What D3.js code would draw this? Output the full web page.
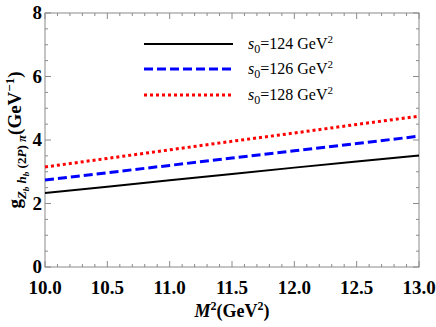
<!DOCTYPE html>
<html>
<head>
<meta charset="utf-8">
<script src="https://cdn.jsdelivr.net/npm/d3@7"></script>
<style>
  body { margin: 0; background: #fff; }
  svg text { font-family: "Liberation Serif", "Times New Roman", Times, serif; }
</style>
</head>
<body>
<div id="chart"></div>
<script>
// M^2 values (GeV^2)
const m2 = [10.0, 10.5, 11.0, 11.5, 12.0, 12.5, 13.0];
const s124 = [2.33, 2.53, 2.73, 2.93, 3.13, 3.32, 3.51];
const s126 = [2.74, 2.97, 3.20, 3.43, 3.66, 3.89, 4.12];
const s128 = [3.15, 3.42, 3.69, 3.96, 4.22, 4.49, 4.75];
const seriesLabels = ["124", "126", "128"];
const xTicks = [10.0, 10.5, 11.0, 11.5, 12.0, 12.5, 13.0];
const yTicks = [0, 2, 4, 6, 8];

const width = 436, height = 327;
const margin = {top: 13, right: 17, bottom: 60, left: 45};

const svg = d3.select("#chart").append("svg")
    .attr("width", width)
    .attr("height", height)
    .attr("font-family", "Liberation Serif, serif");

const x = d3.scaleLinear().domain([10, 13]).range([margin.left, width - margin.right]);
const y = d3.scaleLinear().domain([0, 8]).range([height - margin.bottom, margin.top]);

const axisColor = "#8a8a8a";

// frame
svg.append("rect")
    .attr("x", x(10)).attr("y", y(8))
    .attr("width", x(13) - x(10)).attr("height", y(0) - y(8))
    .attr("fill", "none").attr("stroke", axisColor).attr("stroke-width", 1);

// ticks (inward, all four sides)
const xMinor = d3.range(100, 131).map(d => d / 10);
const yMinor = d3.range(0, 17).map(d => d / 2);
const xMajorSet = new Set(xTicks.map(d => d.toFixed(1)));
const yMajorSet = new Set(yTicks.map(String));

const tickG = svg.append("g").attr("stroke", axisColor).attr("stroke-width", 1);
xMinor.forEach(v => {
  const len = xMajorSet.has(v.toFixed(1)) ? 6 : 3;
  tickG.append("line").attr("x1", x(v)).attr("x2", x(v)).attr("y1", y(0)).attr("y2", y(0) - len);
  tickG.append("line").attr("x1", x(v)).attr("x2", x(v)).attr("y1", y(8)).attr("y2", y(8) + len);
});
yMinor.forEach(v => {
  const len = yMajorSet.has(String(v)) ? 6 : 3;
  tickG.append("line").attr("y1", y(v)).attr("y2", y(v)).attr("x1", x(10)).attr("x2", x(10) + len);
  tickG.append("line").attr("y1", y(v)).attr("y2", y(v)).attr("x1", x(13)).attr("x2", x(13) - len);
});

// tick labels
svg.append("g").selectAll("text").data(xTicks).enter().append("text")
    .attr("x", d => x(d)).attr("y", y(0) + 27)
    .attr("text-anchor", "middle")
    .style("font-size", "19px").style("font-weight", "bold")
    .text(d => d.toFixed(1));

svg.append("g").selectAll("text").data(yTicks).enter().append("text")
    .attr("x", x(10) - 3).attr("y", d => y(d) + 6)
    .attr("text-anchor", "end")
    .style("font-size", "19px").style("font-weight", "bold")
    .text(d => d);

// lines
const series = [
  {vals: s124, color: "#000", dash: null, w: 2},
  {vals: s126, color: "#0000ff", dash: "9,4", w: 3},
  {vals: s128, color: "#ff0000", dash: "3,3", w: 3}
];
const line = d3.line().x((d, i) => x(m2[i])).y(d => y(d));

series.forEach(s => {
  svg.append("path")
      .datum(s.vals)
      .attr("d", line)
      .attr("fill", "none")
      .attr("stroke", s.color)
      .attr("stroke-width", s.w)
      .attr("stroke-dasharray", s.dash);
});

// legend
const legY = [44, 69, 95];
series.forEach((s, i) => {
  svg.append("line")
      .attr("x1", 144).attr("x2", 233)
      .attr("y1", legY[i]).attr("y2", legY[i])
      .attr("stroke", s.color).attr("stroke-width", s.w)
      .attr("stroke-dasharray", s.dash);
  const t = svg.append("text")
      .attr("x", 248).attr("y", legY[i] + 5)
      .style("font-size", "16px");
  t.append("tspan").style("font-style", "italic").text("s");
  t.append("tspan").attr("dy", 4).style("font-size", "12px").text("0");
  t.append("tspan").attr("dy", -4).text("=" + seriesLabels[i] + " GeV");
  t.append("tspan").attr("dy", -6).style("font-size", "11px").text("2");
});

// x axis title
const xt = svg.append("text")
    .attr("x", 232).attr("y", 317)
    .attr("text-anchor", "middle")
    .style("font-size", "18px").style("font-weight", "bold");
xt.append("tspan").style("font-style", "italic").text("M");
xt.append("tspan").attr("dy", -7).style("font-size", "12px").text("2");
xt.append("tspan").attr("dy", 7).text("(GeV");
xt.append("tspan").attr("dy", -7).style("font-size", "12px").text("2");
xt.append("tspan").attr("dy", 7).text(")");

// y axis title
const yt = svg.append("text")
    .attr("transform", `translate(21,${(y(0) + y(8)) / 2}) rotate(-90)`)
    .attr("text-anchor", "middle")
    .style("font-size", "19px").style("font-weight", "bold");
yt.append("tspan").text("g");
yt.append("tspan").attr("dy", 5).style("font-size", "13px").style("font-style", "italic").text("Z");
yt.append("tspan").attr("dy", 3).style("font-size", "9px").style("font-style", "italic").text("b");
yt.append("tspan").attr("dy", -3).style("font-size", "13px").style("font-style", "italic").text(" h");
yt.append("tspan").attr("dy", 3).style("font-size", "9px").style("font-style", "italic").text("b");
yt.append("tspan").attr("dy", -3).style("font-size", "13px").text(" (2");
yt.append("tspan").style("font-size", "13px").style("font-style", "italic").text("P");
yt.append("tspan").style("font-size", "13px").text(") ");
yt.append("tspan").style("font-size", "13px").style("font-style", "italic").text("π");
yt.append("tspan").attr("dy", -5).text("(GeV");
yt.append("tspan").attr("dy", -7).style("font-size", "13px").text("−1");
yt.append("tspan").attr("dy", 7).text(")");
</script>
</body>
</html>
